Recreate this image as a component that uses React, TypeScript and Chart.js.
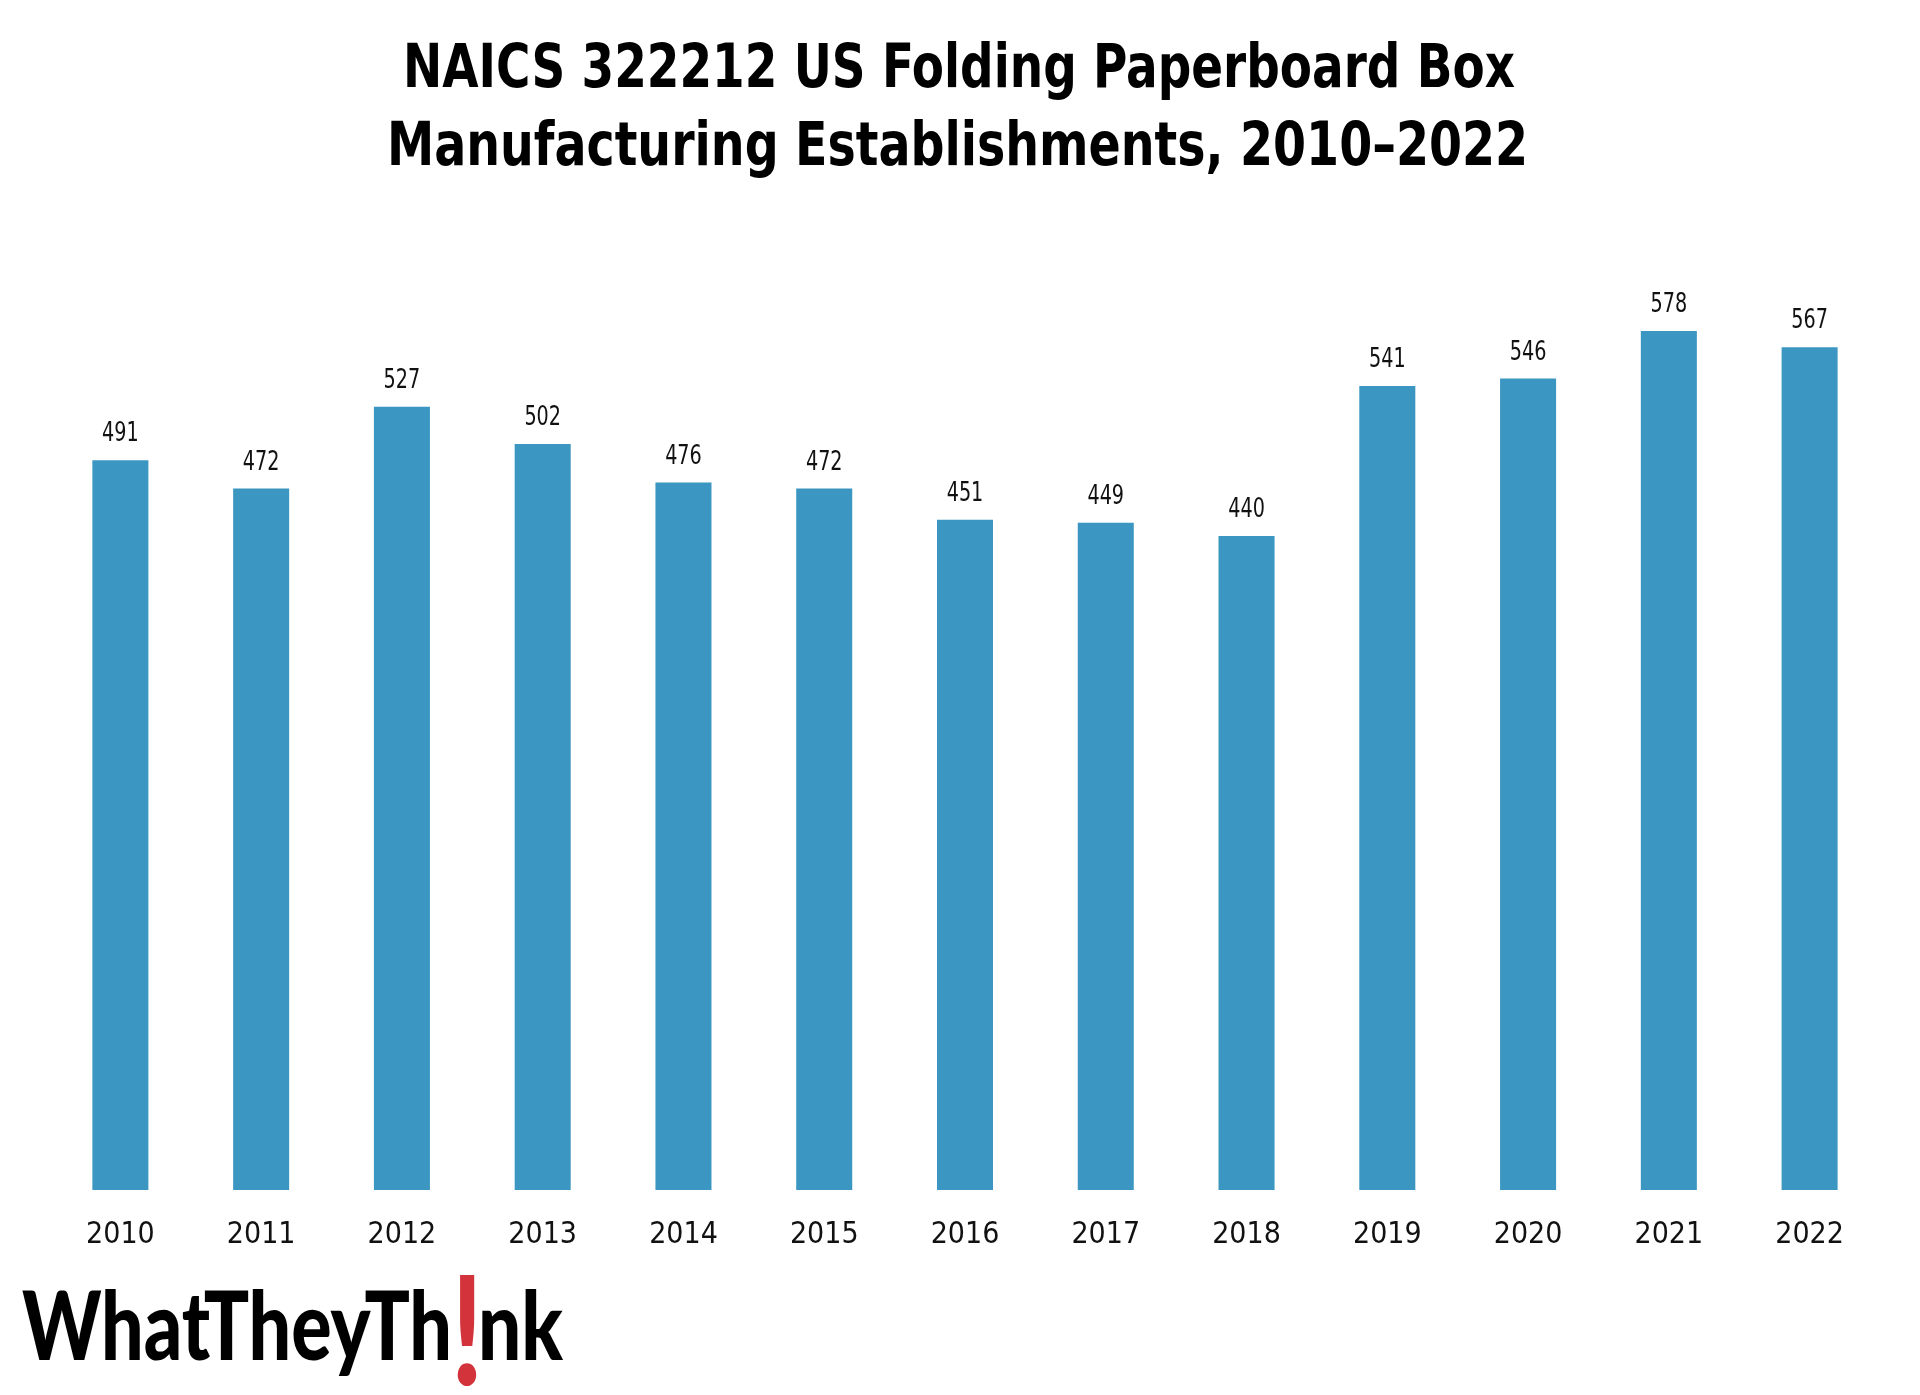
import React, { useEffect, useRef } from "react";
import { Chart, registerables } from "chart.js";

Chart.register(...registerables);

// ---- data ----
const years = ["2010", "2011", "2012", "2013", "2014", "2015", "2016", "2017", "2018", "2019", "2020", "2021", "2022"];
const establishments = [491, 472, 527, 502, 476, 472, 451, 449, 440, 541, 546, 578, 567];
const titleLines = ["NAICS 322212 US Folding Paperboard Box", "Manufacturing Establishments, 2010–2022"];
const logoParts = ["WhatTheyTh", "!", "nk"];
const yMin = 0;
const yMax = 650;

const NARROW = "'Liberation Sans Narrow', 'DejaVu Sans Condensed', 'Arial Narrow', sans-serif";
const BAR_COLOR = "#3b97c1";
const TEXT_COLOR = "#111111";

function fitText(ctx: CanvasRenderingContext2D, text: string, left: number, baseline: number, width: number) {
  ctx.save();
  ctx.textAlign = "left";
  ctx.textBaseline = "alphabetic";
  const m = ctx.measureText(text).width;
  ctx.translate(left, baseline);
  ctx.scale(width / m, 1);
  ctx.fillText(text, 0, 0);
  ctx.restore();
}

const decorPlugin = {
  id: "decor",
  afterDraw(chart: any) {
    const ctx: CanvasRenderingContext2D = chart.ctx;
    // Title
    ctx.save();
    ctx.fillStyle = "#000";
    ctx.font = `bold 61px ${NARROW}`;
    fitText(ctx, titleLines[0], 403, 87, 1112);
    fitText(ctx, titleLines[1], 387, 165, 1141);
    ctx.restore();

    // Value labels
    const meta = chart.getDatasetMeta(0);
    ctx.save();
    ctx.fillStyle = TEXT_COLOR;
    ctx.font = `26px ${NARROW}`;
    ctx.textAlign = "center";
    ctx.textBaseline = "alphabetic";
    meta.data.forEach((el: any, i: number) => {
      ctx.save();
      ctx.translate(el.x, el.y - 19);
      ctx.scale(0.82, 1);
      ctx.fillText(String(establishments[i]), 0, 0);
      ctx.restore();
    });
    ctx.restore();

    // Logo
    ctx.save();
    ctx.fillStyle = "#000";
    ctx.font = "900 95px Lato, 'Open Sans', sans-serif";
    fitText(ctx, logoParts[0], 22, 1360, 430);
    fitText(ctx, logoParts[2], 478, 1360, 85);
    ctx.fillStyle = "#d3343b";
    ctx.font = "bold 152px Lato, 'Open Sans', sans-serif";
    ctx.textAlign = "center";
    ctx.textBaseline = "alphabetic";
    ctx.save();
    ctx.translate(467, 1385);
    ctx.scale(0.8, 1);
    ctx.fillText(logoParts[1], 0, 0);
    ctx.restore();
    ctx.restore();
  },
};

export default function App() {
  const ref = useRef<HTMLCanvasElement | null>(null);
  useEffect(() => {
    if (!ref.current) return;
    const chart = new Chart(ref.current, {
      type: "bar",
      data: {
        labels: years,
        datasets: [
          {
            data: establishments,
            backgroundColor: BAR_COLOR,
            borderWidth: 0,
            categoryPercentage: 1,
            barPercentage: 0.398,
          },
        ],
      },
      options: {
        responsive: false,
        animation: false,
        devicePixelRatio: 1,
        layout: { padding: { left: 50, right: 40, top: 224, bottom: 123 } },
        plugins: {
          legend: { display: false },
          title: { display: false },
          tooltip: { enabled: false },
        },
        scales: {
          x: {
            grid: { display: false },
            border: { display: false },
            ticks: {
              color: TEXT_COLOR,
              font: { family: NARROW, size: 30 },
              padding: 19,
              maxRotation: 0,
            },
          },
          y: {
            display: false,
            min: yMin,
            max: yMax,
          },
        },
      },
      plugins: [decorPlugin],
    });
    return () => chart.destroy();
  }, []);
  return (
    <div style={{ position: "absolute", left: 0, top: 0, width: 1920, height: 1395, background: "#fff" }}>
      <canvas ref={ref} width={1920} height={1395} style={{ display: "block", width: 1920, height: 1395 }} />
    </div>
  );
}
